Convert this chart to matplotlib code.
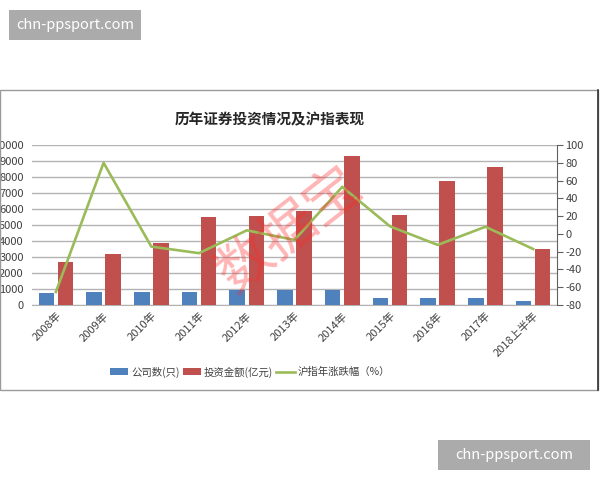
import numpy as np
import matplotlib
matplotlib.use("Agg")
import matplotlib.pyplot as plt
from matplotlib.patches import Rectangle

plt.rcParams['font.family'] = ['Noto Sans CJK SC', 'DejaVu Sans']

# --- data ---
years = ['2008年', '2009年', '2010年', '2011年', '2012年', '2013年',
         '2014年', '2015年', '2016年', '2017年', '2018上半年']
companies = [780, 800, 830, 790, 940, 950, 950, 440, 440, 440, 270]        # 公司数(只)
invest = [2670, 3190, 3850, 5520, 5560, 5880, 9330, 5600, 7750, 8600, 3500]  # 投资金额(亿元)
sh_change = [-65.4, 80.0, -14.3, -21.7, 4.0, -6.8, 52.9, 8.5, -12.4, 8.0, -17.0]  # 沪指年涨跌幅(%)

left_ticks = list(range(0, 10001, 1000))
right_ticks = list(range(-80, 101, 20))

blue = '#4f81bd'
red = '#c0504d'
green = '#9bbb59'
grid_c = '#b3b3b3'
text_c = '#404040'

fig = plt.figure(figsize=(6, 4.8), dpi=100)

# screenshot frame of the original chart
fig.patches.append(Rectangle((0.0, 1 - 390 / 480), 598 / 600, 300 / 480,
                             transform=fig.transFigure, fill=False,
                             edgecolor='#9a9a9a', linewidth=1.0))
fig.add_artist(plt.Line2D([598 / 600, 598 / 600], [1 - 390 / 480, 1 - 90 / 480],
                          transform=fig.transFigure, color='#333333', linewidth=1.2))

ax = fig.add_axes([32 / 600, 1 - 305 / 480, 525 / 600, 160 / 480])
x = np.arange(len(years))
w = 0.325
ax.bar(x - 0.2, companies, width=w, color=blue, zorder=3, label='公司数(只)')
ax.bar(x + 0.2, invest, width=w, color=red, zorder=3, label='投资金额(亿元)')
ax.set_xlim(-0.5, len(years) - 0.5)
ax.set_ylim(0, 10000)
ax.set_yticks(left_ticks)
ax.set_yticklabels([str(v) for v in left_ticks], fontsize=8, color=text_c)
ax.yaxis.grid(True, color=grid_c, linewidth=1.0, zorder=0)
ax.set_axisbelow(True)
ax.tick_params(axis='y', length=0, pad=6)
ax.set_xticks(x)
ax.set_xticklabels(years, rotation=45, ha='right', rotation_mode='anchor',
                   fontsize=8, color=text_c)
ax.tick_params(axis='x', length=0, pad=4)
for s in ['left', 'top', 'right']:
    ax.spines[s].set_visible(False)
ax.spines['bottom'].set_color(grid_c)

ax2 = ax.twinx()
ax2.plot(x, sh_change, color=green, linewidth=1.9, zorder=4, label='沪指年涨跌幅（%）')
ax2.set_ylim(-80, 100)
ax2.set_yticks(right_ticks)
ax2.set_yticklabels([str(v) for v in right_ticks], fontsize=8, color=text_c)
ax2.tick_params(axis='y', length=4, color='#606060', pad=2)
for s in ['left', 'top', 'bottom']:
    ax2.spines[s].set_visible(False)
ax2.spines['right'].set_color('#606060')

fig.text(270 / 600, 1 - 119 / 480, '历年证券投资情况及沪指表现', ha='center', va='center',
         fontsize=10.5, fontweight='bold', color='#262626')

h1, l1 = ax.get_legend_handles_labels()
h2, l2 = ax2.get_legend_handles_labels()
fig.legend(h1 + h2, l1 + l2, loc='center', bbox_to_anchor=(250 / 600, 1 - 372 / 480),
           ncol=3, frameon=False, fontsize=7.5, handlelength=1.8, handleheight=0.7,
           columnspacing=0.3, handletextpad=0.25, labelcolor=text_c)

# red stamp watermark over the chart
fig.text(290 / 600, 1 - 230 / 480, '数据宝', ha='center', va='center', rotation=38,
         fontsize=40, color='#ff2a2a', alpha=0.35, zorder=10)

# site watermark boxes
for bx, by, bw in [(9, 10, 132), (438, 440, 152)]:
    fig.patches.append(Rectangle((bx / 600, 1 - (by + 30) / 480), bw / 600, 30 / 480,
                                 transform=fig.transFigure,
                                 facecolor='#ababab', edgecolor='none', zorder=20))
    fig.text((bx + bw / 2) / 600, 1 - (by + 15) / 480, 'chn-ppsport.com', ha='center',
             va='center', fontsize=10.5, color='white', zorder=21)

fig.savefig('out.png', dpi=100)
